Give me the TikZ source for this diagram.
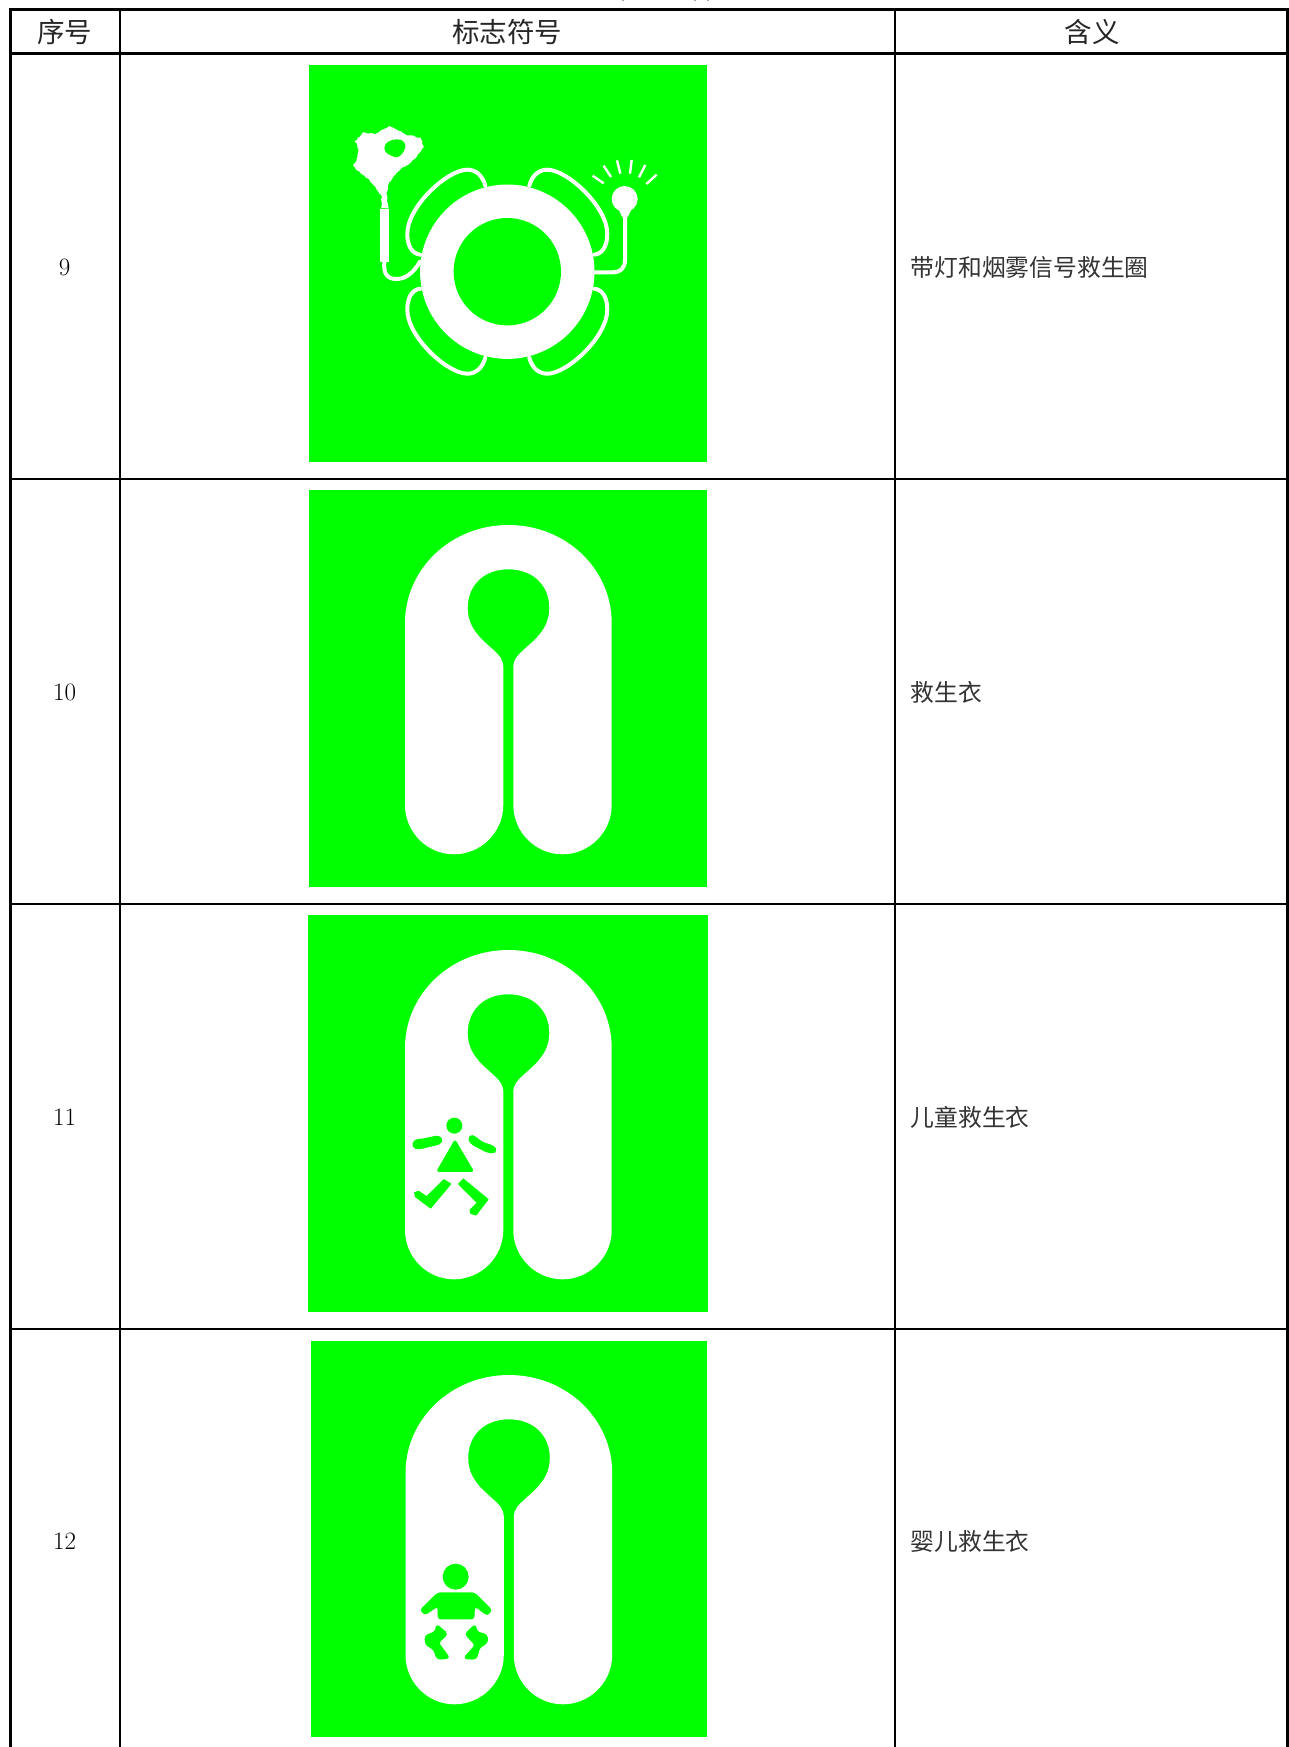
\documentclass[tikz,border=0pt]{standalone}
\usepackage{fontspec}
\newfontfamily\cjk{Noto Sans CJK SC}
\usetikzlibrary{decorations.pathmorphing}
\definecolor{signgreen}{HTML}{00FF00}
\tikzset{
  heavyrule/.style={line width=3pt,black},
  rowrule/.style={line width=2.4pt,black},
  colrule/.style={line width=1.7pt,black},
  edgerule/.style={line width=3pt,black},
  headtext/.style={font=\cjk\fontsize{27.5}{30}\selectfont,inner sep=0pt,text=black!85},
  bodytext/.style={font=\cjk\fontsize{23.8}{28}\selectfont,inner sep=0pt,anchor=west,text=black!80},
  numtext/.style={font=\fontsize{25}{28}\selectfont,inner sep=0pt},
  whiteline/.style={draw=white,line width=4pt,line cap=round,line join=round},
  rayline/.style={draw=white,line width=2.4pt},
  limbfill/.style={fill=signgreen,draw=signgreen,line width=1pt,line join=round},
  faint/.style={draw=black!35,line width=1.5pt}
}
\newcommand{\jacketshape}{%
  \fill[white] (405,623) .. controls (405,569) and (451,525) .. (508.4,525)
   .. controls (566,525) and (611.7,569) .. (611.7,623) -- (611.7,805)
   .. controls (611.7,832) and (589.5,854.3) .. (562.5,854.3)
   .. controls (535.5,854.3) and (513.3,832) .. (513.3,805) -- (513.3,667)
   .. controls (513.6,659) and (518,655) .. (523.3,650)
   .. controls (533,641) and (549.3,630) .. (549.3,608)
   .. controls (549.3,585) and (533,569.3) .. (508.4,569.3)
   .. controls (484,569.3) and (467.7,585) .. (467.7,608)
   .. controls (467.7,630) and (484,641) .. (493.5,650)
   .. controls (499,655) and (503,659) .. (503.3,667) -- (503.3,805)
   .. controls (503.3,832) and (481,854.3) .. (454,854.3)
   .. controls (427,854.3) and (405,832) .. (405,805) -- cycle;%
}
\begin{document}
\begin{tikzpicture}[x=1pt,y=-1pt]
\useasboundingbox (0,0) rectangle (1289,1747);
\fill[white] (0,0) rectangle (1289,1747);
% faint remains above the table
\draw[faint] (623,0) -- (623,1.5);
\draw[faint] (695,0) -- (695,1.5);
\draw[faint] (708,0) -- (708,1.5);
% table
\draw[edgerule] (10.3,8) -- (10.3,1747);
\draw[edgerule] (1287.6,8) -- (1287.6,1747);
\draw[colrule] (119.7,9) -- (119.7,1747);
\draw[colrule] (895.3,9) -- (895.3,1747);
\draw[heavyrule] (8.8,9.5) -- (1289,9.5);
\draw[heavyrule] (8.8,54) -- (1289,54);
\draw[rowrule] (8.8,479) -- (1289,479);
\draw[rowrule] (8.8,904) -- (1289,904);
\draw[rowrule] (8.8,1329) -- (1289,1329);
% header
\node[headtext] (hnum) at (64.5,32) {序号};
\node[headtext] (hsign) at (507,32) {标志符号};
\node[headtext] (hmean) at (1092,32) {含义};
% left and right columns
\node[numtext] (n9) at (64.5,267) {9};
\node[numtext] (n10) at (64.5,692) {10};
\node[numtext] (n11) at (64.5,1117) {11};
\node[numtext] (n12) at (64.5,1541.5) {12};
\node[bodytext] (t9) at (910.5,267) {带灯和烟雾信号救生圈};
\node[bodytext] (t10) at (910.5,692) {救生衣};
\node[bodytext] (t11) at (910.5,1117) {儿童救生衣};
\node[bodytext] (t12) at (910.5,1541.5) {婴儿救生衣};
% sign backgrounds
\fill[signgreen] (309,65) rectangle (706.5,461.7);
\fill[signgreen] (308.5,490) rectangle (707,886.7);
\fill[signgreen] (308.3,915) rectangle (708,1311.7);
\fill[signgreen] (310.8,1341) rectangle (707,1736.7);
% sign 9: lifebuoy
\foreach \sx/\sy in {1/1,-1/1,1/-1,-1/-1}{
  \begin{scope}[shift={(507.3,271.7)},xscale=\sx,yscale=\sy]
    \draw[whiteline] (-22,-86) .. controls (-25,-97) and (-32,-102) .. (-40,-102)
      .. controls (-60,-102) and (-100,-65) .. (-100,-38)
      .. controls (-100,-27) and (-96,-18) .. (-87,-17);
  \end{scope}
}
\fill[white] (507.3,271.7) circle[radius=87.2];
\fill[signgreen] (507.3,271.7) circle[radius=53.7];
\begin{scope}[shift={(320,100)},x=.33333pt,y=-.33333pt]
  % lamp
  \fill[white] (914,297) circle[radius=39];
  \fill[white] (893,322) -- (907,352) -- (923,352) -- (937,322) -- cycle;
  \draw[whiteline] (915,345) -- (915,480) .. controls (915,505) and (900,517) .. (880,517) -- (823,517);
  \draw[rayline] (818,227) -- (851,250);
  \draw[rayline] (851,197) -- (873,231);
  \draw[rayline] (891,181) -- (901,221);
  \draw[rayline] (935,180) -- (930,221);
  \draw[rayline] (976,195) -- (957,232);
  \draw[rayline] (1010,224) -- (979,252);
  % smoke signal
  \fill[white] (180,328) rectangle (207,485);
  \draw[whiteline] (193,485) .. controls (190,520) and (200,537) .. (230,537)
     .. controls (255,537) and (280,520) .. (300,485);
  \pgfmathsetseed{7}
  \fill[white,decorate,decoration={random steps,segment length=2pt,amplitude=.7pt}]
    (184,325) -- (186,290) -- (168,265) -- (148,238) -- (122,220) -- (100,198) -- (113,170) -- (116,148)
    -- (106,122) -- (128,98) -- (165,103) -- (180,93) -- (208,78) -- (240,93) -- (265,106) -- (302,113)
    -- (312,140) -- (292,167) -- (272,187) -- (242,207) -- (222,227) -- (207,250) -- (199,280) -- (204,325) -- cycle;
  \fill[signgreen] (193,145) .. controls (193,125) and (215,118) .. (232,118)
     .. controls (250,118) and (258,130) .. (256,142)
     .. controls (252,158) and (238,174) .. (228,172)
     .. controls (212,168) and (193,160) .. (193,145) -- cycle;
\end{scope}
% sign 10
\jacketshape
% sign 11
\begin{scope}[shift={(0,425)}]
  \jacketshape
\end{scope}
\begin{scope}[shift={(380,1080)},x=.33333pt,y=-.33333pt]
  \fill[signgreen] (223,137) circle[radius=24];
  \filldraw[signgreen,line width=3pt,line join=round] (225,186) -- (176,271) -- (275,271) -- cycle;
  % arms
  \path[limbfill] (112,179) .. controls (130,178) and (150,172) .. (168,169)
     .. controls (180,167) and (188,178) .. (184,186)
     .. controls (178,196) and (150,197) .. (130,204)
     .. controls (112,210) and (97,204) .. (99,192)
     .. controls (100,184) and (106,180) .. (112,179) -- cycle;
  \path[limbfill] (277,167) .. controls (290,170) and (298,184) .. (315,190)
     .. controls (335,195) and (350,202) .. (347,212)
     .. controls (343,222) and (325,220) .. (305,208)
     .. controls (290,200) and (268,192) .. (267,178)
     .. controls (267,170) and (272,166) .. (277,167) -- cycle;
  % legs
  \path[limbfill] (192,299) -- (212,312) -- (152,384) -- (106,350) -- (104,338) -- (116,334) -- (140,350) -- cycle;
  \path[limbfill] (236,312) -- (250,297) -- (324,358) -- (288,405) -- (272,400) -- (270,390) -- (292,368) -- cycle;
\end{scope}
% sign 12
\begin{scope}[shift={(0.5,850)}]
  \jacketshape
\end{scope}
\begin{scope}[shift={(380,1530)},x=.33333pt,y=-.33333pt]
  \fill[signgreen] (227,140) circle[radius=39];
  \fill[signgreen,rounded corners=3pt] (173,187) -- (284,187) -- (337,240) -- (322,258) -- (285,230)
     -- (283,268) -- (173,268) -- (173,230) -- (135,256) -- (119,240) -- cycle;
  \filldraw[signgreen,line width=1.5pt,line join=round,rounded corners=3pt] (170,284) -- (202,312) -- (174,338) -- (208,384) -- (172,387)
     -- (162,358) -- (137,343) -- (136,317) -- (167,306) -- cycle;
  \filldraw[signgreen,line width=1.5pt,line join=round,rounded corners=3pt] (286,284) -- (256,312) -- (287,345) -- (252,385) -- (288,387)
     -- (298,352) -- (322,338) -- (321,315) -- (290,306) -- cycle;
\end{scope}
\end{tikzpicture}
\end{document}
